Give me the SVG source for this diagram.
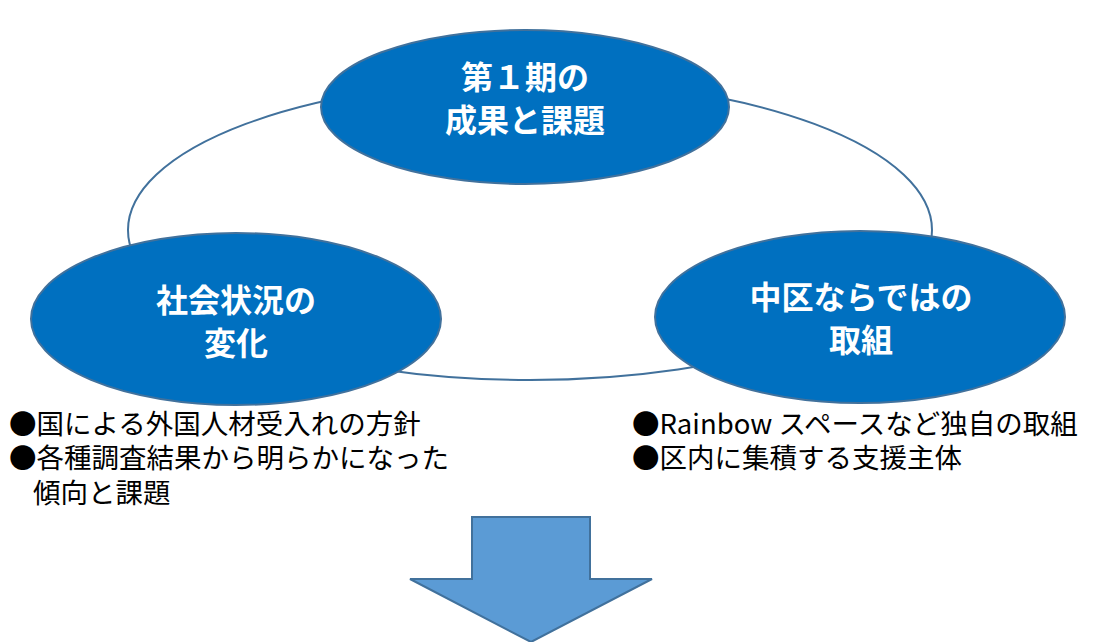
<svg xmlns="http://www.w3.org/2000/svg" width="1094" height="642" viewBox="0 0 1094 642">
<style>
.node{fill:#0070C0;stroke:#41719C;stroke-width:2}
.conn{fill:none;stroke:#41719C;stroke-width:2}
.lbl{fill:#fff;font-family:"Noto Sans CJK JP","Noto Sans",sans-serif;font-weight:bold;font-size:32px;text-anchor:middle}
.txt{fill:#000;font-family:"Noto Sans CJK JP","Noto Sans",sans-serif;font-size:27.5px}
.arrow{fill:#5B9BD5;stroke:#41719C;stroke-width:2}
</style>
<rect width="1094" height="642" fill="#fff"/>
<g id="connectors">
<ellipse class="conn" cx="530" cy="230" rx="402" ry="150"/>
</g>
<g id="node-top">
<ellipse class="node" cx="525" cy="107" rx="204" ry="77"/>
<text class="lbl"><tspan x="525" y="89">第１期の</tspan><tspan x="525" y="132">成果と課題</tspan></text>
</g>
<g id="node-left">
<ellipse class="node" cx="236" cy="319" rx="205" ry="86"/>
<text class="lbl"><tspan x="236" y="312">社会状況の</tspan><tspan x="236" y="355">変化</tspan></text>
</g>
<g id="node-right">
<ellipse class="node" cx="860" cy="317" rx="205" ry="86"/>
<text class="lbl"><tspan x="861" y="309">中区ならではの</tspan><tspan x="861" y="352">取組</tspan></text>
</g>
<g id="notes-left">
<text class="txt"><tspan x="9" y="434">●国による外国人材受入れの方針</tspan><tspan x="9" y="468">●各種調査結果から明らかになった</tspan><tspan x="33" y="503">傾向と課題</tspan></text>
</g>
<g id="notes-right">
<text class="txt"><tspan x="632" y="434">●Rainbow スペースなど独自の取組</tspan><tspan x="632" y="468">●区内に集積する支援主体</tspan></text>
</g>
<g id="arrow">
<polygon class="arrow" points="472,517 590,517 590,579 652,579 531,642 410,579 472,579"/>
</g>
</svg>
